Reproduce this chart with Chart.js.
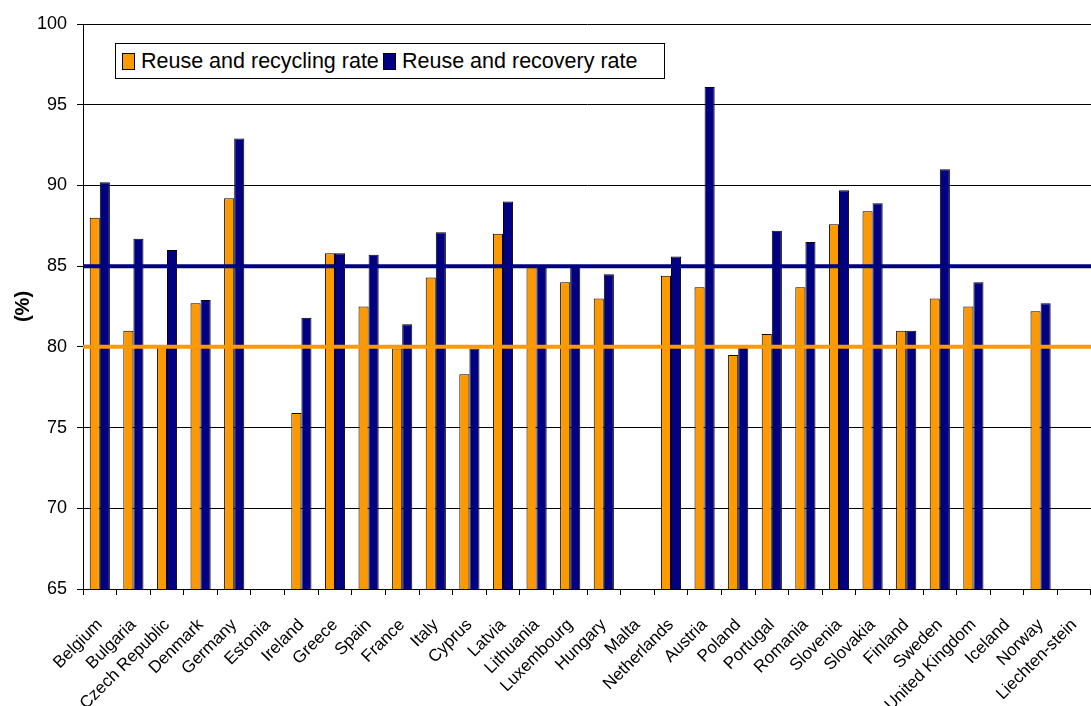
<!DOCTYPE html>
<html>
<head>
<meta charset="utf-8">
<script src="https://cdn.jsdelivr.net/npm/chart.js@4/dist/chart.umd.min.js"></script>
<style>
  html, body { margin: 0; padding: 0; background: #fff; }
  #wrap { position: relative; width: 1091px; height: 706px; }
  #legend {
    position: absolute; left: 115px; top: 43px; width: 548px; height: 34px;
    border: 1px solid #000; background: #fff; color: #000;
    box-sizing: content-box;
    font-family: "Liberation Sans", Arial, sans-serif; font-size: 21.5px;
  }
  .item { position: absolute; top: 0; height: 34px; display: flex; align-items: center; white-space: nowrap; }
  .sw { width: 11px; height: 15px; border: 1px solid #000; margin-right: 6px; flex: none; }
</style>
</head>
<body>
<div id="wrap">
  <canvas id="c" width="1091" height="706"></canvas>
  <div id="legend"></div>
</div>
<script>
const categories = ["Belgium","Bulgaria","Czech Republic","Denmark","Germany","Estonia","Ireland","Greece","Spain","France","Italy","Cyprus","Latvia","Lithuania","Luxembourg","Hungary","Malta","Netherlands","Austria","Poland","Portugal","Romania","Slovenia","Slovakia","Finland","Sweden","United Kingdom","Iceland","Norway","Liechten-stein"];
const recyclingRate = [88.0,81.0,80.1,82.7,89.2,null,75.9,85.8,82.5,79.9,84.3,78.3,87.0,85.0,84.0,83.0,null,84.4,83.7,79.5,80.8,83.7,87.6,88.4,81.0,83.0,82.5,null,82.2,null];
const recoveryRate = [90.2,86.7,86.0,82.9,92.9,null,81.8,85.8,85.7,81.4,87.1,79.9,89.0,85.0,85.0,84.5,null,85.6,96.1,80.1,87.2,86.5,89.7,88.9,81.0,91.0,84.0,null,82.7,null];
const seriesNames = ["Reuse and recycling rate","Reuse and recovery rate"];
const seriesColors = ["#FF9900","#000080"];
const targets = [85, 80];
const targetColors = ["#000080","#FF9900"];
const yTicks = [65,70,75,80,85,90,95,100];

const tickFamily = "'Liberation Sans', Arial, sans-serif";

const targetLines = {
  id: 'targetLines',
  afterDatasetsDraw(chart) {
    const {ctx, chartArea, scales} = chart;
    ctx.save();
    targets.forEach((t, i) => {
      const y = scales.y.getPixelForValue(t);
      ctx.strokeStyle = targetColors[i];
      ctx.lineWidth = 4;
      ctx.beginPath();
      ctx.moveTo(chartArea.left, y);
      ctx.lineTo(chartArea.right, y);
      ctx.stroke();
    });
    ctx.restore();
  }
};

new Chart(document.getElementById('c'), {
  type: 'bar',
  data: {
    labels: categories,
    datasets: [
      { label: seriesNames[0], data: recyclingRate, backgroundColor: seriesColors[0], borderColor: '#000', borderWidth: 1, borderSkipped: 'bottom' },
      { label: seriesNames[1], data: recoveryRate, backgroundColor: seriesColors[1], borderColor: '#000', borderWidth: 1, borderSkipped: 'bottom' }
    ]
  },
  options: {
    responsive: false,
    animation: false,
    datasets: { bar: { categoryPercentage: 0.6, barPercentage: 1.0 } },
    layout: { padding: { top: 24, right: 0, left: 0, bottom: 0 } },
    plugins: { legend: { display: false }, tooltip: { enabled: false } },
    scales: {
      x: {
        grid: { display: true, drawOnChartArea: false, drawTicks: true, tickLength: 6, color: '#000', offset: true },
        border: { display: true, color: '#000', width: 1 },
        ticks: { color: '#000', font: { family: tickFamily, size: 17 }, maxRotation: 45, minRotation: 45, autoSkip: false, padding: 20 },
        afterFit(s) { s.height = 117; s.paddingLeft = 0; s.paddingRight = 0; }
      },
      y: {
        min: 65, max: 100,
        afterBuildTicks(s) { s.ticks = yTicks.map(v => ({ value: v })); },
        grid: { color: '#000', lineWidth: 1, tickLength: 6 },
        border: { display: true, color: '#000', width: 1 },
        ticks: { color: '#000', font: { family: tickFamily, size: 18 }, padding: 10 },
        title: { display: true, text: '(%)', color: '#000', font: { family: tickFamily, size: 20, weight: 'bold' }, padding: { top: 11, bottom: 0 } },
        afterFit(s) { s.width = 83; s.paddingTop = 0; s.paddingBottom = 0; }
      }
    }
  },
  plugins: [targetLines]
});

const lg = document.getElementById('legend');
const itemLefts = [6, 267];
seriesNames.forEach((n, i) => {
  const it = document.createElement('div');
  it.className = 'item';
  it.style.left = itemLefts[i] + 'px';
  const sw = document.createElement('div');
  sw.className = 'sw';
  sw.style.background = seriesColors[i];
  const tx = document.createElement('span');
  tx.textContent = n;
  it.appendChild(sw); it.appendChild(tx);
  lg.appendChild(it);
});
</script>
</body>
</html>
